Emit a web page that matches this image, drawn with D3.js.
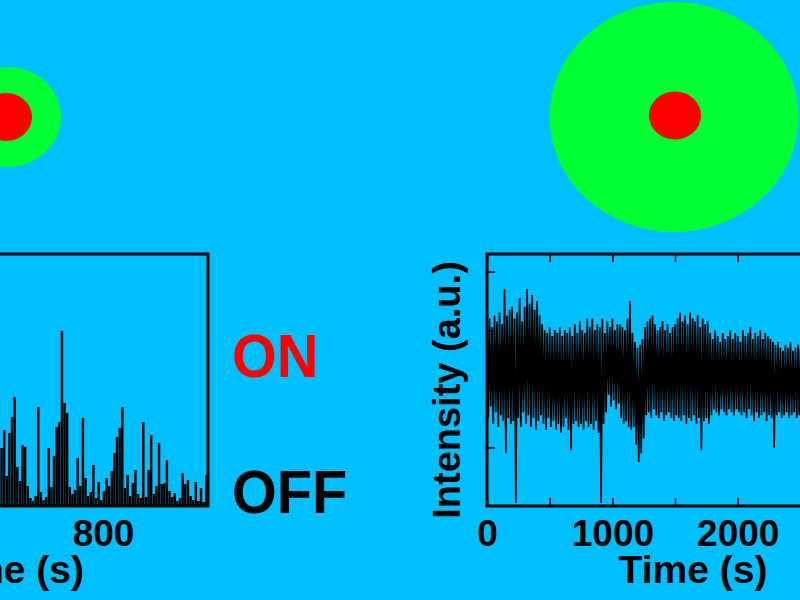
<!DOCTYPE html>
<html>
<head>
<meta charset="utf-8">
<script src="https://cdn.jsdelivr.net/npm/d3@7"></script>
<style>
  html, body { margin: 0; padding: 0; background: #00BFFF; }
  svg { display: block; }
  text { font-family: "Liberation Sans", Arial, Helvetica, sans-serif; font-weight: bold; }
</style>
</head>
<body>
<svg id="chart" width="800" height="600"></svg>
<script>
// ---------------- DATA ----------------
// Left panel: blinking trace (counts per time bin)
const leftTimeStart = 520;   // s, first visible bin
const leftBinWidth = 7;      // s
const leftCounts = [35,58,76,30,73,89,109,39,25,61,59,20,8,5,10,99,14,6,9,58,
  19,50,79,84,175,103,93,19,12,16,48,20,88,28,10,14,41,8,24,6,
  15,28,20,35,53,69,78,99,18,31,10,23,36,12,8,84,9,36,71,12,
  20,63,22,23,46,15,9,13,5,8,33,22,26,10,6,24,5,18,4,31];
const leftXTickValues = [0, 400, 800];

// Right panel: steady (non-blinking) trace
const rightTimeStep = 10;    // s
const rightIntensity = [
  3300,1500,3200,1700,3050,1400,3250,1600,3150,1350,3300,1550,3100,1450,3700,900,3250,1500,3350,1400,
  3400,1450,3200,50,3300,1500,3550,1350,3150,1600,3400,1400,3700,1550,3450,1350,3600,1500,3350,1300,3500,1450,3250,1550,
  3100,1400,3000,1300,2950,1500,3050,1350,2900,1450,3000,1300,2950,1400,3050,1250,2900,1350,3000,1500,2950,1300,3050,950,2900,1400,
  3100,1450,2950,1350,3150,1400,3000,1300,2950,1450,3200,1350,3050,1400,3200,1300,3000,1450,3100,1250,3050,50,3200,1400,2950,1600,
  3150,1900,3050,1700,3200,1800,3000,1650,3100,1750,3100,1500,3050,1400,3000,1450,3200,1350,3500,1300,2950,1350,2800,1050,2700,750,2750,900,2850,1150,
  3050,1550,3150,1600,3200,1500,3250,1650,3100,1550,3000,1500,3050,1600,3150,1450,3000,1550,3100,1600,2950,1500,3050,1450,3100,1550,
  3200,1500,3300,1450,3150,1550,3250,1400,3100,1500,3300,1450,3200,1550,3150,1400,3250,1500,3050,950,3200,1450,3100,1500,3150,1400,
  2950,1550,2850,1650,3000,1600,2900,1550,2800,1650,2950,1600,2850,1550,2900,1650,3000,1600,2850,1550,2950,1650,2900,1600,2800,1550,
  3000,1600,2900,1500,2950,1650,3050,1550,2850,1450,2950,1600,2900,1500,3000,1550,2850,1600,2950,1450,2900,1550,2850,1500,2800,1000,
  2750,1550,2800,1600,2700,1500,2650,1550,2750,1600,2700,1500,2800,1550,2650,1600,2700,1500,2750,1550,2700,1600
];
const rightXTickValues = [0, 500, 1000, 1500, 2000, 2500];
const rightXTickLabels = [0, 1000, 2000];
const rightYTickValues = [1000, 2000, 3000, 4000];

const stateLabels = ["ON", "OFF"];
const xTitle = "Time (s)";
const yTitle = "Intensity (a.u.)";

// ---------------- DRAW ----------------
const svg = d3.select("#chart");
svg.append("rect").attr("width", 800).attr("height", 600).attr("fill", "#00BFFF");

const frameTop = 254, frameBottom = 506;
const GREEN = "#00FF33", RED = "#FF0000";

// particles (illustrations)
const g0 = svg.append("g");
g0.append("ellipse").attr("cx", 7).attr("cy", 117).attr("rx", 54).attr("ry", 50).attr("fill", GREEN);
g0.append("ellipse").attr("cx", 6).attr("cy", 117).attr("rx", 26).attr("ry", 24).attr("fill", RED);
g0.append("ellipse").attr("cx", 674).attr("cy", 117).attr("rx", 124.5).attr("ry", 115).attr("fill", GREEN);
g0.append("ellipse").attr("cx", 675).attr("cy", 115.5).attr("rx", 26).attr("ry", 24).attr("fill", RED);

// ---- Left panel ----
const lx = d3.scaleLinear().domain([0, 1080]).range([-197, 208]);
const ly = d3.scaleLinear().domain([0, 252]).range([frameBottom, frameTop]);
const left = svg.append("g");
const binPx = lx(leftBinWidth) - lx(0);
left.selectAll("rect.bar").data(leftCounts).join("rect")
  .attr("class", "bar")
  .attr("x", (d, i) => lx(leftTimeStart + i * leftBinWidth) - 0.3)
  .attr("width", binPx - 0.2)
  .attr("y", d => ly(d))
  .attr("height", d => ly(0) - ly(d))
  .attr("fill", "#000");
left.append("rect").attr("x", lx(0)).attr("y", frameTop)
  .attr("width", lx(1080) - lx(0)).attr("height", frameBottom - frameTop)
  .attr("fill", "none").attr("stroke", "#000").attr("stroke-width", 3);
const lAxis = left.append("g").attr("transform", `translate(0,${frameBottom})`)
  .call(d3.axisBottom(lx).tickValues(leftXTickValues).tickSize(0).tickPadding(14));
lAxis.select(".domain").remove();
lAxis.selectAll("text").attr("font-size", 37).attr("fill", "#000")
  .style("font-family", "'Liberation Sans', Arial, sans-serif").style("font-weight", "bold");
left.append("text").attr("x", 84).attr("y", 583).attr("text-anchor", "end")
  .attr("font-size", 39).attr("fill", "#000").text(xTitle);

// ---- ON / OFF ----
svg.append("text").attr("x", 232).attr("y", 377).attr("font-size", 62)
  .attr("fill", RED).attr("transform", "translate(232,0) scale(0.93,1) translate(-232,0)").text(stateLabels[0]);
svg.append("text").attr("x", 232).attr("y", 513).attr("font-size", 62)
  .attr("fill", "#000").attr("transform", "translate(232,0) scale(0.93,1) translate(-232,0)").text(stateLabels[1]);

// ---- Right panel ----
const rx = d3.scaleLinear().domain([0, 2600]).range([487, 813]);
const ry = d3.scaleLinear().domain([0, 4300]).range([frameBottom, frameTop]);
const right = svg.append("g");
const line = d3.line().x((d, i) => rx(i * rightTimeStep)).y(d => ry(d));
right.append("path").datum(rightIntensity).attr("d", line)
  .attr("fill", "none").attr("stroke", "#000").attr("stroke-width", 1.7)
  .attr("stroke-linejoin", "miter").attr("stroke-miterlimit", 2);
right.append("rect").attr("x", rx(0)).attr("y", frameTop)
  .attr("width", rx(2600) - rx(0)).attr("height", frameBottom - frameTop)
  .attr("fill", "none").attr("stroke", "#000").attr("stroke-width", 3);

const tickLen = 8;
const rb = right.append("g").attr("transform", `translate(0,${frameBottom})`)
  .call(d3.axisBottom(rx).tickValues(rightXTickValues).tickSizeInner(-tickLen).tickSizeOuter(0)
    .tickPadding(14).tickFormat(d => rightXTickLabels.includes(d) ? d : ""));
rb.select(".domain").remove();
rb.selectAll("line").attr("stroke", "#000").attr("stroke-width", 1.5);
rb.selectAll("text").attr("font-size", 37).attr("fill", "#000")
  .style("font-family", "'Liberation Sans', Arial, sans-serif").style("font-weight", "bold");

const rt = right.append("g").attr("transform", `translate(0,${frameTop})`)
  .call(d3.axisTop(rx).tickValues(rightXTickValues).tickSizeInner(-tickLen).tickSizeOuter(0).tickFormat(""));
rt.select(".domain").remove();
rt.selectAll("line").attr("stroke", "#000").attr("stroke-width", 1.5);

const rl = right.append("g").attr("transform", `translate(${rx(0)},0)`)
  .call(d3.axisLeft(ry).tickValues(rightYTickValues).tickSizeInner(-tickLen).tickSizeOuter(0).tickFormat(""));
rl.select(".domain").remove();
rl.selectAll("line").attr("stroke", "#000").attr("stroke-width", 1.5);

right.append("text").attr("x", 693).attr("y", 583).attr("text-anchor", "middle")
  .attr("font-size", 39).attr("fill", "#000").text(xTitle);
right.append("text").attr("transform", "translate(460,390) rotate(-90)")
  .attr("text-anchor", "middle").attr("font-size", 38).attr("fill", "#000").text(yTitle);
</script>
</body>
</html>
